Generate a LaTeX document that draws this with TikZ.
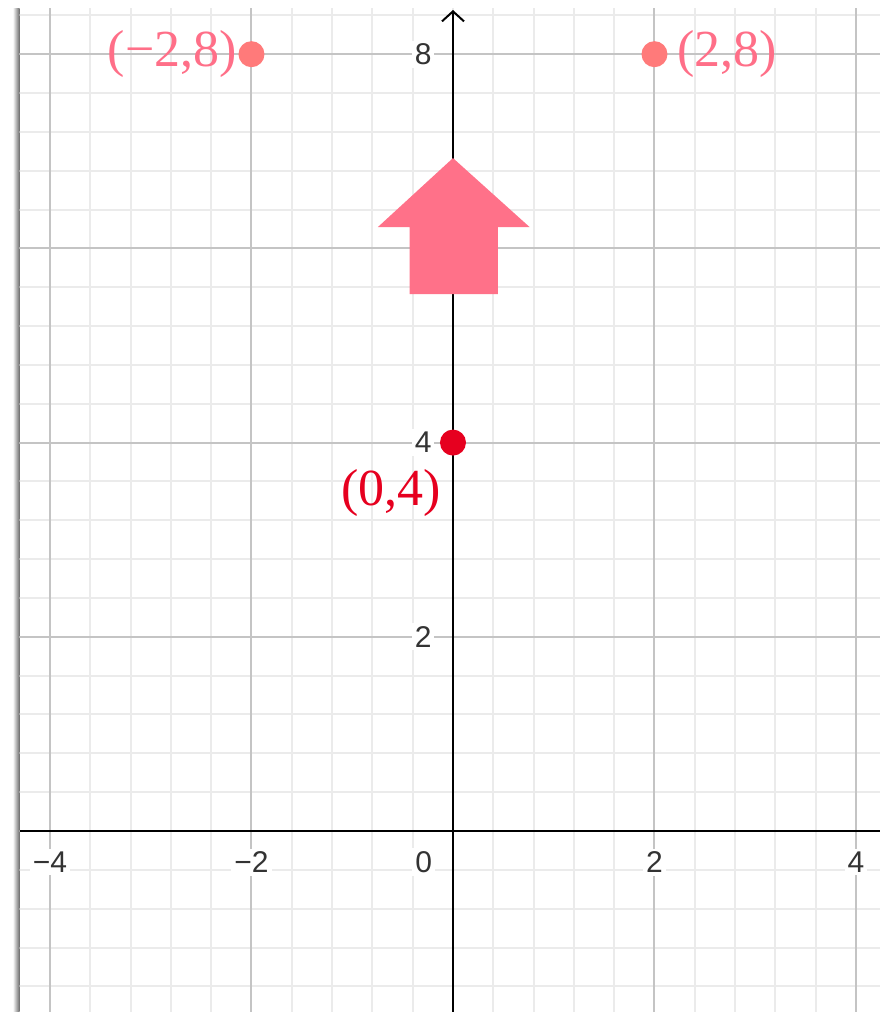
\documentclass[tikz,border=0pt]{standalone}
\usepackage{fontspec}
\setmainfont{Liberation Serif}
\newfontfamily\axisfont{Liberation Sans}
\usetikzlibrary{arrows.meta,positioning}
\definecolor{gridmajor}{HTML}{C4C4C4}
\definecolor{gridminor}{HTML}{EBEBEB}
\definecolor{pinkarrow}{HTML}{FF7189}
\definecolor{pinkdot}{HTML}{FF7A7A}
\definecolor{pinklabel}{HTML}{FF6F88}
\definecolor{redpt}{HTML}{E6001F}
\tikzset{
    dot/.style={circle, inner sep=0pt, minimum size=13pt},
    ptlabel/.style={font=\fontsize{26}{26}\selectfont, inner sep=0pt},
    ticklabel/.style={font=\axisfont\fontsize{15}{15}\selectfont, text=black!80, fill=white, inner sep=1.5pt},
}
\begin{document}
\begin{tikzpicture}[x=50.375pt, y=48.55pt]
    \useasboundingbox (-4.496,-1.864) rectangle (4.238,8.558);

    % shadow on the left edge
    \shade[left color=white, right color=black!60] (-4.37,-1.864) rectangle (-4.3,8.466);

    % grid
    \begin{scope}
        \clip (-4.3,-1.864) rectangle (4.238,8.466);
        \foreach \i in {-11,...,11}
            \draw[gridminor, line width=1pt] (0.4*\i,-2) -- (0.4*\i,9);
        \foreach \j in {-5,...,22}
            \draw[gridminor, line width=1pt] (-5,0.4*\j) -- (5,0.4*\j);
        \foreach \i in {-4,-2,2,4}
            \draw[gridmajor, line width=1pt] (\i,-2) -- (\i,9);
        \foreach \j in {2,4,6,8}
            \draw[gridmajor, line width=1pt] (-5,\j) -- (5,\j);
    \end{scope}

    % axes
    \draw[line width=1pt] (-4.3,0) -- (4.238,0);
    \draw[line width=1pt, -{Straight Barb[length=5pt, width=11pt]}] (0,-1.864) -- (0,8.455);

    % tick labels
    \foreach \x/\t [count=\k] in {-4/−4, -2/−2, 2/2, 4/4}
        \node[ticklabel] (tx\k) at (\x,-0.32) {\t};
    \node[ticklabel] (t0) at (-0.29,-0.32) {0};
    \foreach \y [count=\k] in {2,4,8}
        \node[ticklabel, anchor=east] (ty\k) at (-0.18,\y) {\y};

    % arrow pointing up
    \fill[pinkarrow] (0,6.93) -- (0.76,6.22) -- (0.445,6.22) -- (0.445,5.53)
        -- (-0.43,5.53) -- (-0.43,6.22) -- (-0.745,6.22) -- cycle;

    % points
    \node[dot, fill=redpt] (p04) at (0,4) {};
    \node[dot, fill=pinkdot] (p28) at (2,8) {};
    \node[dot, fill=pinkdot] (pm28) at (-2,8) {};

    % point labels
    \node[ptlabel, text=pinklabel, right=4.5pt of p28] (l28) {(2,8)};
    \node[ptlabel, text=pinklabel, left=0.5pt of pm28] (lm28) {(−2,8)};
    \node[ptlabel, text=redpt] (l04) at (-0.615,3.48) {(0,4)};
\end{tikzpicture}
\end{document}
